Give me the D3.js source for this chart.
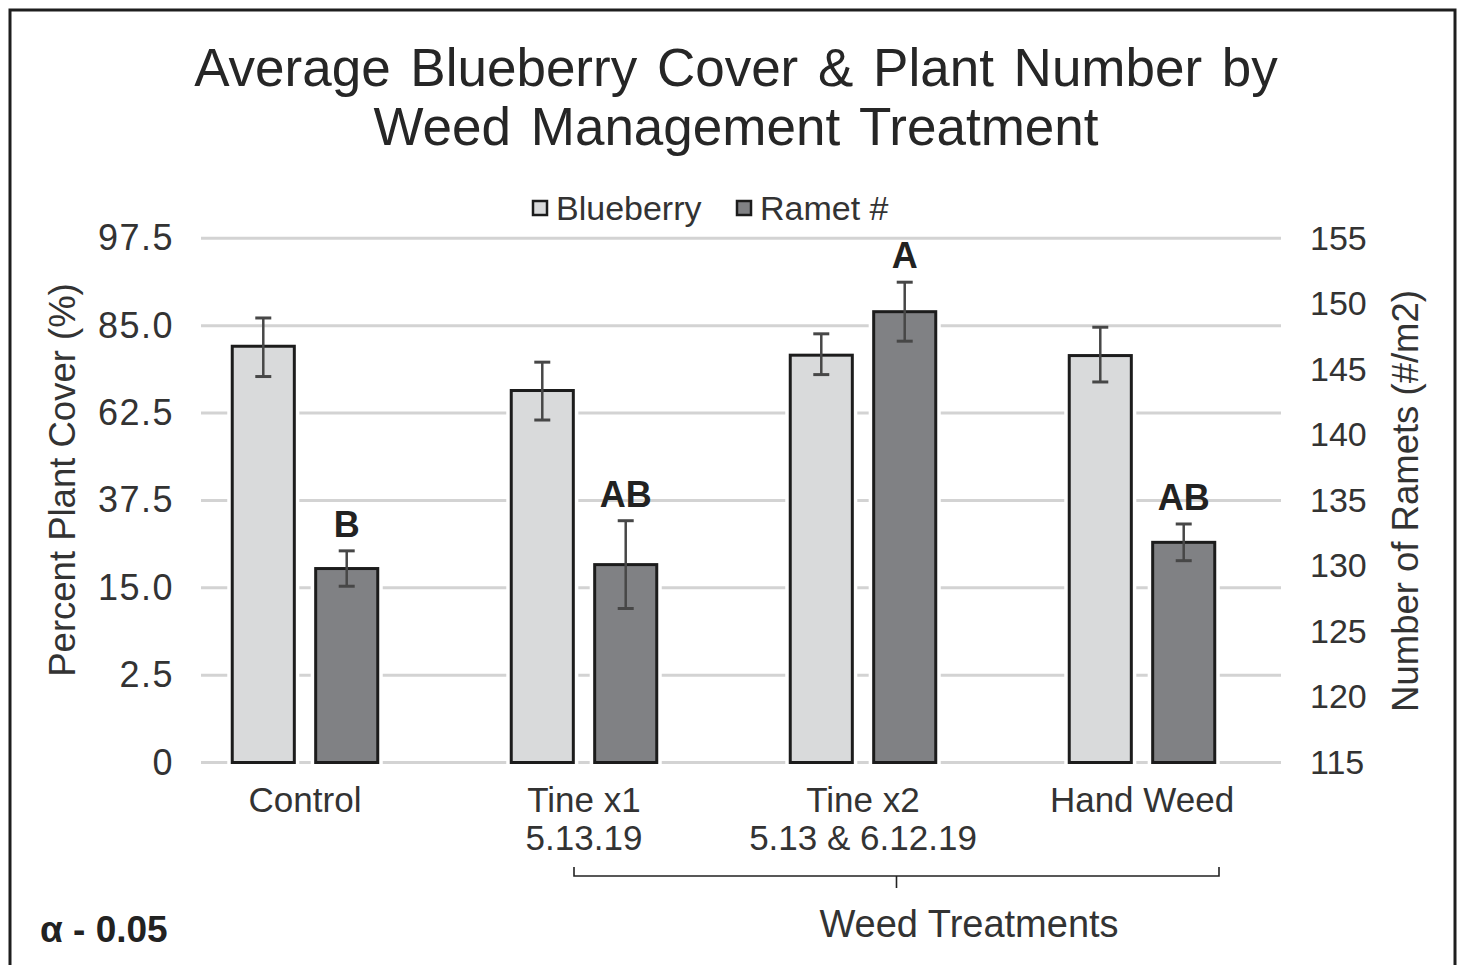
<!DOCTYPE html>
<html>
<head>
<meta charset="utf-8">
<script src="https://cdn.jsdelivr.net/npm/d3@7"></script>
<style>
  html, body { margin: 0; padding: 0; background: #fff; }
  svg { display: block; font-family: "Liberation Sans", Arial, Helvetica, sans-serif; }
</style>
</head>
<body>
<svg id="chart" width="1458" height="965"></svg>
<script>
// ---------------- data ----------------
const categories = ["Control", "Tine x1", "Tine x2", "Hand Weed"];
const categorySub = ["", "5.13.19", "5.13 & 6.12.19", ""];
const seriesNames = ["Blueberry", "Ramet #"];

// Blueberry percent cover (left axis)
const blueberryMean = [79.7, 68.3, 77.4, 77.3];
const blueberryLow  = [71.9, 60.5, 72.4, 70.5];
const blueberryHigh = [86.1, 75.6, 82.9, 84.6];

// Ramet number (right axis)
const rametMean = [129.8, 130.1, 149.4, 131.8];
const rametErr  = [1.35, 3.35, 2.25, 1.4];
const rametLetters = ["B", "AB", "A", "AB"];

// tick labels
const leftTickValues = [0, 2.5, 15, 37.5, 62.5, 85, 97.5];
const leftTickLabels = ["0", "2.5", "15.0", "37.5", "62.5", "85.0", "97.5"];
const rightTickValues = [115, 120, 125, 130, 135, 140, 145, 150, 155];

const titleLines = ["Average Blueberry Cover & Plant Number by", "Weed Management Treatment"];
const leftAxisTitle = "Percent Plant Cover (%)";
const rightAxisTitle = "Number of Ramets (#/m2)";
const bracketLabel = "Weed Treatments";
const alphaNote = "\u03B1 - 0.05";

// ---------------- layout ----------------
const svg = d3.select("#chart");
const plotTop = 238.3, plotBottom = 762.5;
const gridLeft = 201, gridRight = 1281;
const FONT = '"Liberation Sans", Arial, Helvetica, sans-serif';

// frame
svg.append("rect").attr("x", 10).attr("y", 10).attr("width", 1445).attr("height", 990)
  .attr("fill", "#fff").attr("stroke", "#1e1e1e").attr("stroke-width", 3);

// scales
const step = (plotBottom - plotTop) / (leftTickValues.length - 1);
const yL = d3.scaleLinear()
  .domain(leftTickValues)
  .range(leftTickValues.map((d, i) => plotBottom - i * step));
const yR = d3.scaleLinear().domain([115, 155]).range([plotBottom, plotTop]);

const x0 = d3.scaleBand().domain(categories).range([165.5, 1281.5]).padding(0);
const x1 = d3.scaleBand().domain(seriesNames).range([0, x0.bandwidth()])
  .paddingInner(0.256).paddingOuter(0.8);

// gridlines
svg.append("g").selectAll("line").data(leftTickValues).join("line")
  .attr("x1", gridLeft).attr("x2", gridRight)
  .attr("y1", d => yL(d)).attr("y2", d => yL(d))
  .attr("stroke", "#d3d3d3").attr("stroke-width", 3);

// left axis
const axL = svg.append("g").attr("transform", "translate(174,0)")
  .call(d3.axisLeft(yL).tickValues(leftTickValues).tickFormat((d, i) => leftTickLabels[i])
    .tickSize(0).tickPadding(0));
axL.select(".domain").remove();
axL.selectAll("text").attr("font-family", FONT).attr("font-size", 36)
  .attr("letter-spacing", 1.5).attr("fill", "#333");

// right axis
const axR = svg.append("g").attr("transform", "translate(1310,0)")
  .call(d3.axisRight(yR).tickValues(rightTickValues).tickFormat(d3.format("d"))
    .tickSize(0).tickPadding(0));
axR.select(".domain").remove();
axR.selectAll("text").attr("font-family", FONT).attr("font-size", 34).attr("fill", "#333");

// bars
const barW = x1.bandwidth();
const groups = svg.append("g").selectAll("g").data(categories).join("g")
  .attr("transform", d => `translate(${x0(d)},0)`);

function drawBar(sel, xPos, top, fill) {
  // white halo
  sel.append("rect").attr("x", xPos).attr("y", top).attr("width", barW)
    .attr("height", plotBottom - top).attr("fill", "#fff")
    .attr("stroke", "#fff").attr("stroke-width", 10);
  sel.append("rect").attr("x", xPos).attr("y", top).attr("width", barW)
    .attr("height", plotBottom - top).attr("fill", fill)
    .attr("stroke", "#1c1c1c").attr("stroke-width", 3);
}
function drawErr(sel, cx, yTop, yBot) {
  const c = "#474747";
  sel.append("line").attr("x1", cx).attr("x2", cx).attr("y1", yTop).attr("y2", yBot)
    .attr("stroke", c).attr("stroke-width", 2.5);
  [yTop, yBot].forEach(yy => sel.append("line").attr("x1", cx - 8).attr("x2", cx + 8)
    .attr("y1", yy).attr("y2", yy).attr("stroke", c).attr("stroke-width", 3));
}

groups.each(function(cat, i) {
  const g = d3.select(this);
  const xb = x1("Blueberry"), xr = x1("Ramet #");
  drawBar(g, xb, yL(blueberryMean[i]), "#d9dadb");
  drawBar(g, xr, yR(rametMean[i]), "#808184");
  drawErr(g, xb + barW / 2, yL(blueberryHigh[i]), yL(blueberryLow[i]));
  const eTop = yR(rametMean[i] + rametErr[i]);
  drawErr(g, xr + barW / 2, eTop, yR(rametMean[i] - rametErr[i]));
  g.append("text").attr("x", xr + barW / 2).attr("y", eTop - 14)
    .attr("text-anchor", "middle").attr("font-family", FONT).attr("font-weight", "bold")
    .attr("font-size", 36).attr("fill", "#222").text(rametLetters[i]);
});

// category labels
const catG = svg.append("g").selectAll("g").data(categories).join("g")
  .attr("transform", d => `translate(${x0(d) + x0.bandwidth() / 2},0)`);
catG.append("text").attr("y", 812).attr("text-anchor", "middle")
  .attr("font-family", FONT).attr("font-size", 35).attr("fill", "#333").text(d => d);
catG.append("text").attr("y", 850).attr("text-anchor", "middle")
  .attr("font-family", FONT).attr("font-size", 35).attr("fill", "#333")
  .text((d, i) => categorySub[i]);

// bracket
const bx1 = x0("Tine x1") + x0.bandwidth() / 2 - 10, bx2 = x0("Hand Weed") + x0.bandwidth() / 2 + 77;
const bY = 876;
svg.append("path")
  .attr("d", `M${bx1},${bY - 9}V${bY}H${bx2}V${bY - 9}M${(bx1 + bx2) / 2},${bY}V${bY + 12}`)
  .attr("fill", "none").attr("stroke", "#222").attr("stroke-width", 1.6);
svg.append("text").attr("x", 969).attr("y", 937).attr("text-anchor", "middle")
  .attr("font-family", FONT).attr("font-size", 38).attr("fill", "#333").text(bracketLabel);

// alpha note
svg.append("text").attr("x", 40).attr("y", 942)
  .attr("font-family", FONT).attr("font-size", 37).attr("font-weight", "bold")
  .attr("fill", "#222").text(alphaNote);

// axis titles
svg.append("text").attr("transform", "translate(75,480) rotate(-90)")
  .attr("text-anchor", "middle").attr("font-family", FONT).attr("font-size", 36.5)
  .attr("fill", "#333").text(leftAxisTitle);
svg.append("text").attr("transform", "translate(1418,501) rotate(-90)")
  .attr("text-anchor", "middle").attr("font-family", FONT).attr("font-size", 36.5)
  .attr("fill", "#333").text(rightAxisTitle);

// title
svg.append("g").selectAll("text").data(titleLines).join("text")
  .attr("x", 736).attr("y", (d, i) => 86 + i * 59).attr("text-anchor", "middle")
  .attr("font-family", FONT).attr("font-size", 53).attr("fill", "#262626")
  .attr("word-spacing", 5).text(d => d);

// legend
const legend = svg.append("g");
const legItems = [{name: "Blueberry", fill: "#d9dadb", x: 533}, {name: "Ramet #", fill: "#808184", x: 737}];
legItems.forEach(it => {
  legend.append("rect").attr("x", it.x).attr("y", 201).attr("width", 14).attr("height", 14)
    .attr("fill", it.fill).attr("stroke", "#1c1c1c").attr("stroke-width", 2.5);
  legend.append("text").attr("x", it.x + 23).attr("y", 220)
    .attr("font-family", FONT).attr("font-size", 34).attr("fill", "#333").text(it.name);
});
</script>
</body>
</html>
